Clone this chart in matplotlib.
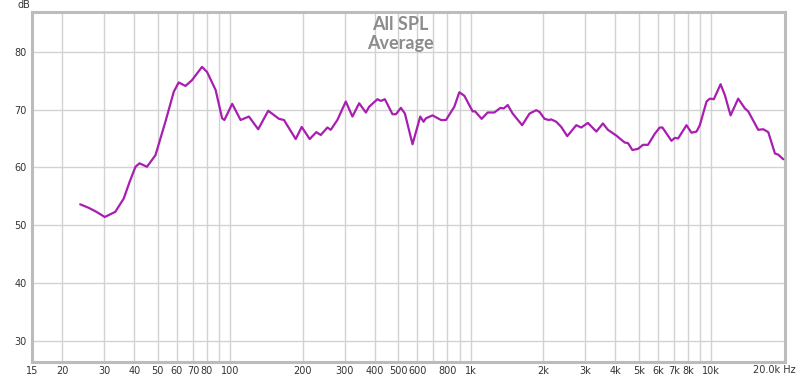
import matplotlib
matplotlib.use("Agg")
import matplotlib.pyplot as plt
from matplotlib.ticker import FixedLocator, FixedFormatter, NullLocator

# Frequency (Hz) and level (dB)
freq_hz = [23.8, 25.8, 27.8, 30.1, 33.3, 36.1, 38.2, 40.4, 42.0, 45.1,
           48.9, 53.8, 58.3, 61.1, 65.2, 69.4, 76.4, 80.2, 87.0, 92.6,
           94.6, 102, 110.5, 119.7, 130.8, 144, 159.6, 167.4, 187.3, 198.4,
           214.2, 228.2, 238.1, 253.7, 262, 279.1, 302.6, 322.4, 343.9, 366.7,
           378.5, 409.7, 423.3, 439.8, 473.2, 488.9, 512.9, 533, 573.3, 617.2,
           637.1, 651.9, 694.4, 752.7, 789.6, 855.2, 897.2, 941.4, 1019, 1043,
           1111, 1177, 1255, 1330, 1373, 1426, 1496, 1638, 1756, 1873,
           1934, 2029, 2113, 2163, 2269, 2381, 2522, 2749, 2884, 3073,
           3331, 3548, 3722, 4035, 4370, 4511, 4705, 4964, 5208, 5464,
           5826, 6112, 6272, 6839, 7060, 7287, 7896, 8284, 8696, 8972,
           9568, 9876, 10260, 10945, 11405, 12044, 12955, 13815, 14261, 15695,
           16467, 17276, 18420, 19015, 19953]
spl_db = [53.6, 53.0, 52.3, 51.4, 52.3, 54.6, 57.5, 60.1, 60.7, 60.1,
          62.1, 67.9, 73.1, 74.7, 74.1, 75.1, 77.4, 76.5, 73.4, 68.5,
          68.2, 71.0, 68.2, 68.8, 66.6, 69.8, 68.4, 68.2, 64.9, 67.0,
          64.9, 66.1, 65.6, 66.9, 66.5, 68.2, 71.4, 68.8, 71.1, 69.5,
          70.5, 71.8, 71.5, 71.8, 69.2, 69.2, 70.3, 69.3, 64.0, 68.8,
          67.9, 68.5, 69.0, 68.2, 68.2, 70.5, 73.0, 72.4, 69.7, 69.7,
          68.4, 69.5, 69.5, 70.3, 70.2, 70.8, 69.3, 67.3, 69.3, 69.9,
          69.6, 68.4, 68.2, 68.3, 67.9, 67.0, 65.4, 67.3, 66.9, 67.7,
          66.2, 67.6, 66.5, 65.5, 64.3, 64.2, 63.0, 63.2, 63.9, 63.9,
          65.8, 66.9, 66.9, 64.6, 65.1, 65.0, 67.3, 66.0, 66.2, 67.3,
          71.4, 71.9, 71.8, 74.4, 72.5, 69.0, 71.9, 70.2, 69.7, 66.5,
          66.6, 66.1, 62.4, 62.2, 61.4]

x_ticks = [15, 20, 30, 40, 50, 60, 70, 80, 100, 200, 300, 400, 500, 600, 800,
           1000, 2000, 3000, 4000, 5000, 6000, 7000, 8000, 10000]
x_tick_labels = ["15", "20", "30", "40", "50", "60", "70", "80", "100", "200",
                 "300", "400", "500", "600", "800", "1k", "2k", "3k", "4k",
                 "5k", "6k", "7k", "8k", "10k"]
x_grid = [20, 30, 40, 50, 60, 70, 80, 90, 100, 200, 300, 400, 500, 600, 700,
          800, 900, 1000, 2000, 3000, 4000, 5000, 6000, 7000, 8000, 9000, 10000]
y_ticks = [30, 40, 50, 60, 70, 80]
y_tick_labels = ["30", "40", "50", "60", "70", "80"]

fig = plt.figure(figsize=(8.0, 3.79), dpi=100)
ax = fig.add_axes([32 / 800, 1 - 362 / 379, 753 / 800, 350 / 379])
ax.set_xscale("log")
ax.set_xlim(15, 20280)
ax.set_ylim(26.3, 86.9)

grid_color = "#d2d2d2"
for g in x_grid:
    ax.axvline(g, color=grid_color, lw=1.0, zorder=1)
for g in y_ticks:
    ax.axhline(g, color=grid_color, lw=1.0, zorder=1)

ax.plot(freq_hz, spl_db, color="#A81EB0", lw=1.6, zorder=3,
        solid_joinstyle="round", solid_capstyle="round")

ax.xaxis.set_major_locator(FixedLocator(x_ticks))
ax.xaxis.set_major_formatter(FixedFormatter(x_tick_labels))
ax.xaxis.set_minor_locator(NullLocator())
ax.yaxis.set_major_locator(FixedLocator(y_ticks))
ax.yaxis.set_major_formatter(FixedFormatter(y_tick_labels))
ax.tick_params(axis="both", length=0, labelsize=7, labelcolor="#333333")
ax.tick_params(axis="x", pad=3)
ax.tick_params(axis="y", pad=4)

for sp in ax.spines.values():
    sp.set_color("#bcbcbc")
    sp.set_linewidth(2.2)

# 20 kHz end label
ax.text((774.5 - 32) / 753, -8 / 350, "20.0k Hz", transform=ax.transAxes,
        ha="center", va="center", fontsize=7, color="#333333")
fig.text(24 / 800, 1 - 5 / 379, "dB", ha="center", va="center",
         fontsize=7, color="#333333")

fig.text(0.5, 1 - 24 / 379, "All SPL", ha="center", va="center",
         fontsize=13, fontweight="bold", family="Lato", color="#8c8c8c")
fig.text(0.5, 1 - 44 / 379, "Average", ha="center", va="center",
         fontsize=13, fontweight="bold", family="Lato", color="#8c8c8c")

fig.savefig("out.png", dpi=100, facecolor="white")
